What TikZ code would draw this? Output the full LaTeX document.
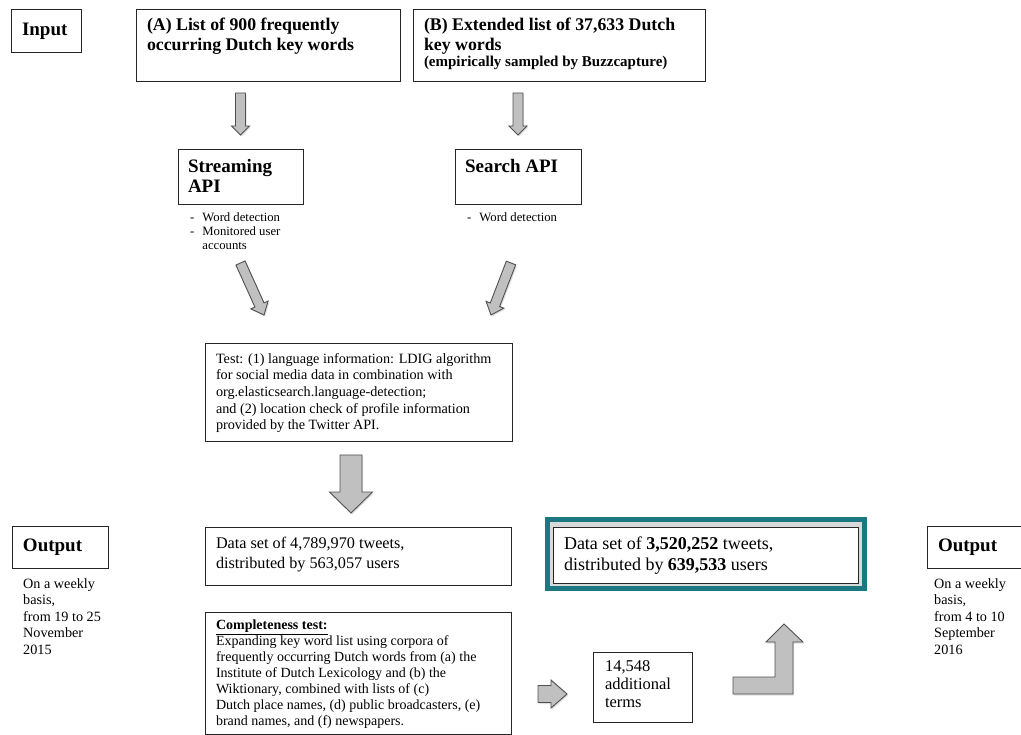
\documentclass[tikz,border=0pt]{standalone}
\usepackage{fontspec}
\setmainfont{Liberation Serif}
\usetikzlibrary{calc, shadows, backgrounds}

\definecolor{arrowgray}{RGB}{192,192,192}
\definecolor{arrowline}{RGB}{80,80,80}
\definecolor{frameteal}{RGB}{28,120,128}
\definecolor{frameband}{RGB}{214,218,218}

\newcommand{\labfont}{\bfseries\fontsize{19}{20}\selectfont}
\newcommand{\headfont}{\bfseries\fontsize{17.8}{20}\selectfont}
\newcommand{\subfont}{\bfseries\fontsize{15}{16}\selectfont}
\newcommand{\notefont}{\fontsize{12.7}{14}\selectfont}
\newcommand{\bodyfont}{\fontsize{14.2}{16.6}\selectfont}
\newcommand{\compfont}{\fontsize{14}{16}\selectfont}
\newcommand{\datafont}{\fontsize{16.2}{20}\selectfont}
\newcommand{\bigdatafont}{\fontsize{18}{21}\selectfont}
\newcommand{\termfont}{\fontsize{16.5}{17.8}\selectfont}
\newcommand{\outfont}{\fontsize{14.2}{16.5}\selectfont}
\newcommand{\boxtext}[3]{\parbox[c][#2][t]{#1}{\raggedright #3}}

%% block arrow between two named coordinates:
%%   \blockarrow{from}{to}{half shaft}{half head}{head length}
\newcommand{\blockarrow}[6][]{%
  \path ($(#3)!#6!(#2)$) coordinate (ahead);
  \filldraw[blockarr, #1] ($(#2)!#4!90:(#3)$) -- ($(ahead)!#4!90:(#3)$)
    -- ($(ahead)!#5!90:(#3)$) -- (#3) -- ($(ahead)!#5!-90:(#3)$)
    -- ($(ahead)!#4!-90:(#3)$) -- ($(#2)!#4!-90:(#3)$) -- cycle;}

\begin{document}
\begin{tikzpicture}[
    x=1pt, y=-1pt,
    %% -- Node styles ------------------------------------------------------
    box/.style={
        draw=black!85,
        line width=1pt,
        fill=white,
        anchor=north west,
        inner xsep=11pt,
        inner ysep=9pt,
        outer sep=0pt,
    },
    labelbox/.style={box, font=\labfont, align=left, inner ysep=0pt},
    note/.style={anchor=base west, inner sep=0pt, font=\notefont},
    %% -- Arrow style ------------------------------------------------------
    blockarr/.style={
        fill=arrowgray,
        draw=arrowline,
        line width=0.9pt,
        drop shadow={shadow xshift=1.2pt, shadow yshift=-1.5pt, opacity=.25},
    },
]
\useasboundingbox (0,0) rectangle (1021,735);
\begin{scope}[on background layer]
\fill[white] (0,0) rectangle (1021,735);
\end{scope}

%% -- Input ---------------------------------------------------------------

\node[labelbox, minimum width=70pt, minimum height=43pt, text width=48pt] (input) at (11,10) {Input};
\node[box, inner ysep=8pt] (listA) at (136,10) {\boxtext{242pt}{56pt}{\headfont (A) List of 900 frequently\\occurring Dutch key words}};
\node[box, inner ysep=8pt] (listB) at (413,10) {\boxtext{270pt}{56pt}{\headfont (B) Extended list of 37,633 Dutch\\key words\par\subfont (empirically sampled by Buzzcapture)\par}};

%% -- APIs ----------------------------------------------------------------

\node[box, inner xsep=10pt] (stream) at (178,150) {\boxtext{105pt}{37pt}{\labfont Streaming\\API}};
\node[box, inner xsep=10pt] (search) at (455,150) {\boxtext{106pt}{37pt}{\labfont Search API}};
\node[note] (streamnote) at (190,222) {\begin{tabular}[t]{@{}l@{\hspace{8pt}}l@{}} - & Word detection\\ - & Monitored user\\ & accounts\end{tabular}};
\node[note] (searchnote) at (467,222) {\begin{tabular}[t]{@{}l@{\hspace{8pt}}l@{}} - & Word detection\end{tabular}};

%% -- Test and data sets --------------------------------------------------

\node[box, inner ysep=10pt] (test) at (205,344) {\parbox[c][78pt][c]{285pt}{\raggedright\bodyfont Test: (1) language information: LDIG algorithm\\for social media data in combination with\\org.elasticsearch.language-detection;\\and (2) location check of profile information\\provided by the Twitter API.}};
\node[box, inner ysep=10pt] (data) at (205,527) {\boxtext{284pt}{38pt}{\datafont Data set of 4,789,970 tweets,\\distributed by 563,057 users}};
\node[box, inner ysep=8pt] (complete) at (205,612) {\boxtext{284pt}{106pt}{\compfont \underline{\textbf{Completeness test:}}\\Expanding key word list using corpora of\\frequently occurring Dutch words from (a) the\\Institute of Dutch Lexicology and (b) the\\Wiktionary, combined with lists of (c)\\Dutch place names, (d) public broadcasters, (e)\\brand names, and (f) newspapers.}};
\node[box, inner xsep=12pt] (extra) at (593,652) {\boxtext{75pt}{52pt}{\termfont 14,548\\additional\\terms}};
\node[box, inner ysep=10pt] (result) at (553,527) {\boxtext{283pt}{36pt}{\bigdatafont Data set of \textbf{3,520,252} tweets,\\distributed by \textbf{639,533} users}};
\begin{scope}[on background layer]
\filldraw[fill=frameband, draw=frameteal, line width=5pt,
    drop shadow={shadow xshift=1.2pt, shadow yshift=-1.5pt, opacity=.25}]
    ($(result.north west)+(-5.5,-7.5)$) rectangle ($(result.south east)+(6.5,5.5)$);
\end{scope}

%% -- Output --------------------------------------------------------------

\node[labelbox, minimum width=96pt, minimum height=42pt, text width=74pt] (outL) at (12,526) {Output};
\node[labelbox, minimum width=96pt, minimum height=42pt, text width=74pt] (outR) at (927,526) {Output};
\node[note, font=\outfont] (outLnote) at (23,588) {\begin{tabular}[t]{@{}l@{}}On a weekly\\basis,\\from 19 to 25\\November\\2015\end{tabular}};
\node[note, font=\outfont] (outRnote) at (934,588) {\begin{tabular}[t]{@{}l@{}}On a weekly\\basis,\\from 4 to 10\\September\\2016\end{tabular}};

%% -- Arrows --------------------------------------------------------------

\coordinate (a1) at ($(listA.south -| stream.north)+(0,11)$);
\coordinate (a2) at ($(stream.north)+(0,-15)$);
\blockarrow{a1}{a2}{5pt}{9pt}{9pt}
\coordinate (b1) at ($(listB.south -| search.north)+(0,11)$);
\coordinate (b2) at ($(search.north)+(0,-15)$);
\blockarrow{b1}{b2}{5pt}{9pt}{9pt}

\coordinate (c1) at ($(stream.south)+(0,58)$);
\coordinate (c2) at ($(test.north west)+(59,-29)$);
\blockarrow{c1}{c2}{5pt}{9.5pt}{11pt}
\coordinate (d1) at ($(search.south)+(-7,58)$);
\coordinate (d2) at ($(test.north east)+(-21,-29)$);
\blockarrow{d1}{d2}{5pt}{9.5pt}{11pt}

\coordinate (e1) at ($(test.south)+(-7.5,13)$);
\coordinate (e2) at ($(data.north)+(-7,-14)$);
\blockarrow{e1}{e2}{11pt}{21.5pt}{21pt}

\coordinate (f1) at ($(complete.east)+(27,21)$);
\coordinate (f2) at ($(extra.west)+(-26,7)$);
\blockarrow{f1}{f2}{8.5pt}{14pt}{16pt}

% bent arrow up to the final data set
\coordinate (g0) at ($(extra.east)+(41,7)$);
\filldraw[blockarr] (g0) -- ++(0,-17) -- ++(42,0) -- ++(0,-35) -- ++(-9,0)
    -- ++(18,-18) -- ++(19,18) -- ++(-10,0) -- ++(0,52) -- cycle;

\end{tikzpicture}
\end{document}
